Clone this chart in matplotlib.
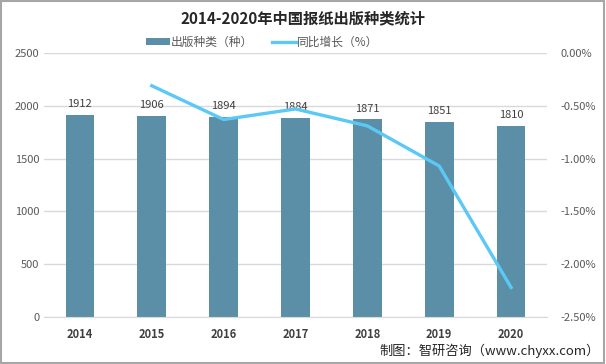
import matplotlib
matplotlib.use("Agg")
import matplotlib.pyplot as plt
from matplotlib.patches import Rectangle
from matplotlib.ticker import FuncFormatter
import numpy as np

plt.rcParams['font.family'] = ['Noto Sans CJK SC', 'DejaVu Sans']

years = ["2014", "2015", "2016", "2017", "2018", "2019", "2020"]
kinds = [1912, 1906, 1894, 1884, 1871, 1851, 1810]
growth = [None, -0.31, -0.63, -0.53, -0.69, -1.07, -2.22]

bar_color = "#5B8FA8"
line_color = "#5BC8F5"
text_gray = "#595959"

fig = plt.figure(figsize=(6.06, 3.64), dpi=100)
ax = fig.add_axes([0.0726, 0.1291, 0.83, 0.7253])
x = np.arange(len(years))
ax.bar(x, kinds, width=0.4, color=bar_color, zorder=2, label="出版种类（种）")
for xi, v in zip(x, kinds):
    ax.text(xi, v + 55, str(v), ha="center", va="bottom", fontsize=8, color="#404040", zorder=5)

ax.set_ylim(0, 2500)
ax.set_yticks([0, 500, 1000, 1500, 2000, 2500])
ax.set_xlim(-0.5, len(years) - 0.5)
ax.set_xticks(x)
ax.set_xticklabels(years, fontsize=8, fontweight="bold", color="#404040")
ax.yaxis.grid(True, color="#D9D9D9", linewidth=1, zorder=0)
ax.set_axisbelow(True)
for s in ["top", "right", "left"]:
    ax.spines[s].set_visible(False)
ax.spines["bottom"].set_color("#D9D9D9")
ax.tick_params(axis="both", length=0, labelsize=8, labelcolor=text_gray)
ax.tick_params(axis="x", pad=8, labelcolor="#404040")

ax2 = ax.twinx()
gx = [xi for xi, g in zip(x, growth) if g is not None]
gy = [g for g in growth if g is not None]
ax2.plot(gx, gy, color=line_color, linewidth=2.4, zorder=4, label="同比增长（%）")
ax2.set_ylim(-2.5, 0)
ax2.set_yticks([0, -0.5, -1.0, -1.5, -2.0, -2.5])
ax2.yaxis.set_major_formatter(FuncFormatter(lambda v, p: "%.2f%%" % v))
for s in ["top", "right", "left", "bottom"]:
    ax2.spines[s].set_visible(False)
ax2.tick_params(axis="y", length=0, labelsize=8, labelcolor=text_gray, pad=10)

fig.text(0.5, 0.95, "2014-2020年中国报纸出版种类统计", ha="center", va="center",
         fontsize=11, fontweight="bold", color="#262626")

h1, l1 = ax.get_legend_handles_labels()
h2, l2 = ax2.get_legend_handles_labels()
fig.legend(h1 + h2, l1 + l2, loc="center", bbox_to_anchor=(0.433, 0.885), ncol=2,
           frameon=False, fontsize=8.5, labelcolor=text_gray, handlelength=2.0,
           handleheight=0.5, columnspacing=1.6, handletextpad=0.1)

fig.text(0.99, 0.035, "制图：智研咨询（www.chyxx.com）", ha="right", va="center",
         fontsize=9.5, color="#262626")

fig.patches.append(Rectangle((0.001, 0.002), 0.996, 0.995, transform=fig.transFigure,
                             fill=False, edgecolor="#A6A6A6", linewidth=1.5))

fig.savefig("out.png", dpi=100)
